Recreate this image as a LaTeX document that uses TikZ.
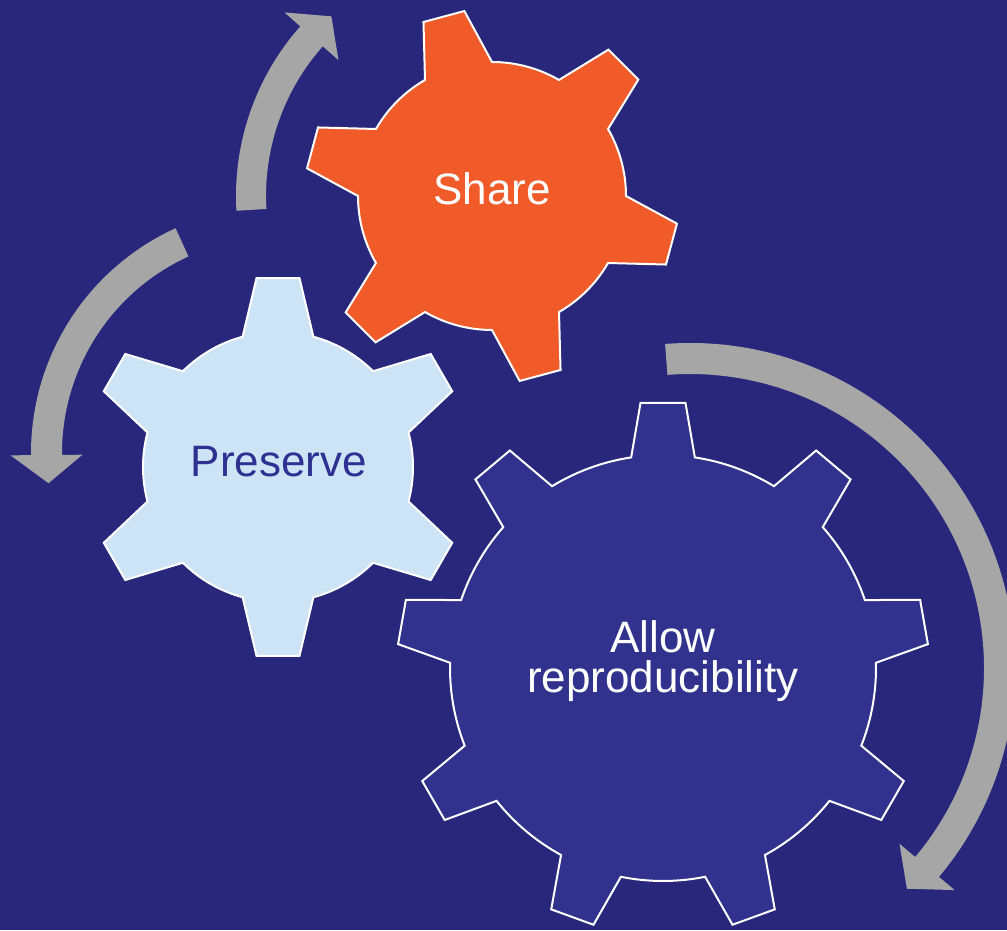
\documentclass[tikz,border=0pt]{standalone}
\usepackage{fontspec}
\setmainfont{Liberation Sans}

\definecolor{bgblue}{RGB}{40,39,124}
\definecolor{gearblue}{RGB}{48,50,141}
\definecolor{gearorange}{RGB}{241,91,41}
\definecolor{gearlight}{RGB}{205,227,246}
\definecolor{arrowgray}{RGB}{166,166,166}
\definecolor{textblue}{RGB}{46,49,146}

\tikzset{
  % N teeth, phase, body radius, tip radius, base half angle, tip half angle
  gearpath/.style n args={6}{insert path={
    ({#2-#5}:#3)
    \foreach \i in {1,...,#1}{
      -- ({#2+(\i-1)*360/#1-#6}:#4) -- ({#2+(\i-1)*360/#1+#6}:#4)
      -- ({#2+(\i-1)*360/#1+#5}:#3)
      arc[start angle={#2+(\i-1)*360/#1+#5}, end angle={#2+\i*360/#1-#5}, radius=#3]
    } -- cycle}},
  % inner radius, outer radius, start angle, head angle, tip angle
  ringarrow/.style n args={5}{insert path={
    (#3:#2) arc[start angle=#3, end angle=#4, radius=#2]
    -- ({#4}:{(#1+#2)/2+36}) -- ({#5}:{(#1+#2)/2}) -- ({#4}:{(#1+#2)/2-36})
    -- (#4:#1) arc[start angle=#4, end angle=#3, radius=#1] -- cycle}},
  gearline/.style={draw=white, line width=2pt, line join=miter},
  gearlabel/.style={font=\fontsize{44}{40}\selectfont, inner sep=0pt, align=center}
}

\begin{document}
\begin{tikzpicture}[x=1pt, y=1pt]
  \useasboundingbox (0,0) rectangle (1007,930);
  \fill[bgblue] (0,0) rectangle (1007,930);

  \fill[arrowgray, shift={(492,734)}, ringarrow={226}{256}{183.3}{138.5}{131.8}];
  \fill[arrowgray, shift={(278,477)}, ringarrow={216}{247}{114.5}{180.5}{187.5}];
  \fill[arrowgray, shift={(690,262)}, ringarrow={294}{325}{94.4}{-40}{-45.5}];

  \draw[gearline, fill=gearblue, shift={(663,262)}, gearpath={9}{90}{213}{266}{8.6}{4.85}];
  \draw[gearline, fill=gearorange, shift={(492,734)}, gearpath={6}{45}{134}{187}{15}{6.5}];
  \draw[gearline, fill=gearlight, shift={(278,463)}, gearpath={6}{90}{135}{190}{15.2}{6.5}];

  \node[gearlabel, anchor=base, text=white] (share) at (492,725) {Share};
  \node[gearlabel, anchor=base, text=textblue] (preserve) at (279,453) {Preserve};
  \node[gearlabel, text=white] (allow) at (663,269) {Allow\\reproducibility};
\end{tikzpicture}
\end{document}
